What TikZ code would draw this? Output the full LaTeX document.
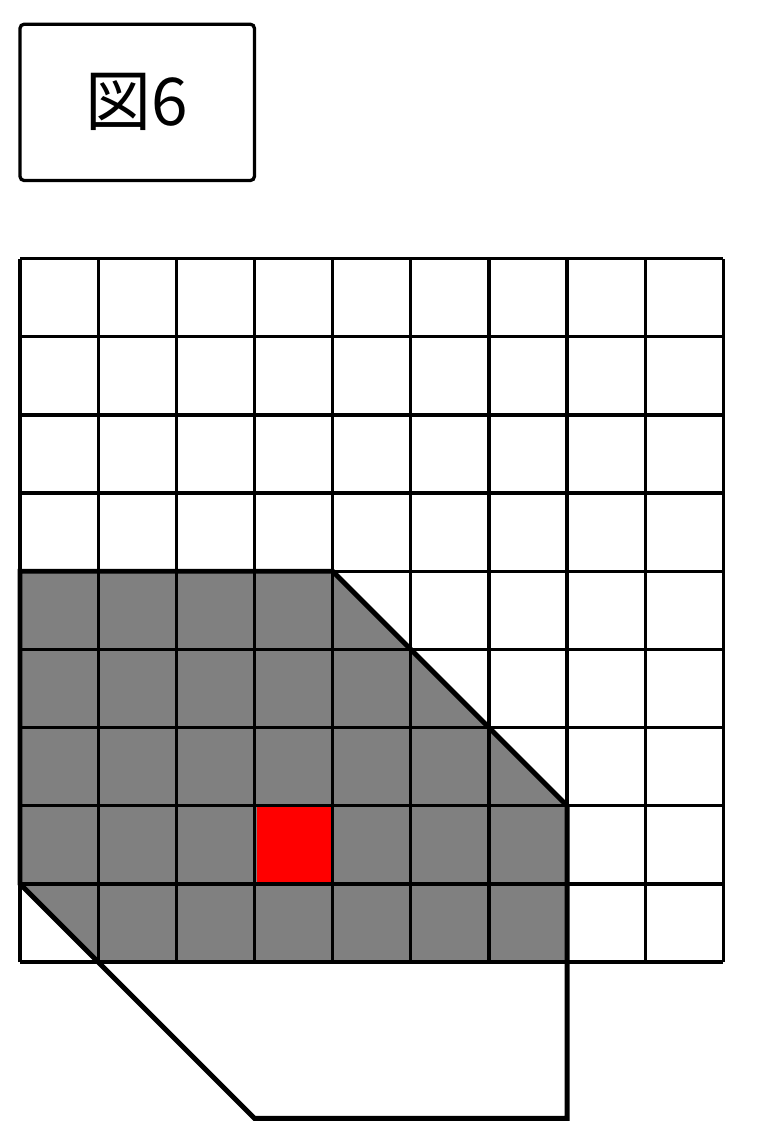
\documentclass[tikz,border=0pt]{standalone}
\usepackage{fontspec}
\newfontfamily\jpfont{Noto Sans CJK JP}
\usepackage{xcolor}
\usepackage{tikz}
\usetikzlibrary{positioning}

\begin{document}
\begin{tikzpicture}[
    gridline/.style={draw=black, line width=1.2pt},
    region/.style={draw=black, line width=1.8pt, line join=miter},
    label/.style={rectangle, draw=black, line width=1.2pt, rounded corners=1.5pt, minimum width=3cm, minimum height=2cm, font=\jpfont\fontsize{24}{28}\selectfont}
]
    \useasboundingbox (-0.256,-2.303) rectangle (9.418,12.31);

    % Figure label
    \node [label] (title) at (1.5,11) {図6};

    % Shaded region and target cell
    \fill [gray] (0,5) -- (4,5) -- (7,2) -- (7,0) -- (1,0) -- (0,1) -- cycle;
    \fill [red] (3.03,1.03) rectangle (4,2);

    % Board
    \draw [gridline] (0,0) grid (9,9);

    % Outlines
    \coordinate (a) at (0,5);
    \coordinate (b) at (4,5);
    \coordinate (c) at (7,2);
    \coordinate (d) at (7,-2);
    \coordinate (e) at (3,-2);
    \coordinate (f) at (0,1);
    \draw [region] (a) -- (b) -- (c) -- (d) -- (e) -- (f) -- cycle;
    \draw [region] (7,0) -- (1,0);
\end{tikzpicture}
\end{document}
